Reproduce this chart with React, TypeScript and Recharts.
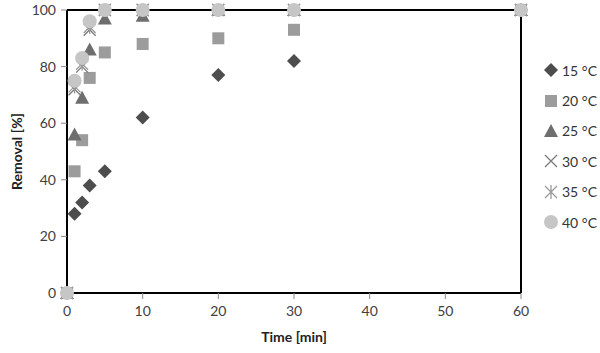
import React from "react";
import {
  ScatterChart, Scatter, XAxis, YAxis, ReferenceLine, Label,
} from "recharts";

const times = [0, 1, 2, 3, 5, 10, 20, 30, 60];
const r15 = [0, 28, 32, 38, 43, 62, 77, 82, 100];
const r20 = [0, 43, 54, 76, 85, 88, 90, 93, 100];
const r25 = [0, 56, 69, 86, 97, 98, 100, 100, 100];
const r30 = [0, 72, 80, 93, 100, 100, 100, 100, 100];
const r35 = [0, 73, 81, 94, 100, 100, 100, 100, 100];
const r40 = [0, 75, 83, 96, 100, 100, 100, 100, 100];
const xTicks = [0, 10, 20, 30, 40, 50, 60];
const yTicks = [0, 20, 40, 60, 80, 100];

type Kind = "diamond" | "square" | "triangle" | "cross" | "star" | "circle";

const series: { name: string; values: number[]; color: string; kind: Kind }[] = [
  { name: "15 °C", values: r15, color: "#4d4d4d", kind: "diamond" },
  { name: "20 °C", values: r20, color: "#9c9c9c", kind: "square" },
  { name: "25 °C", values: r25, color: "#6e6e6e", kind: "triangle" },
  { name: "30 °C", values: r30, color: "#7a7a7a", kind: "cross" },
  { name: "35 °C", values: r35, color: "#9a9a9a", kind: "star" },
  { name: "40 °C", values: r40, color: "#c6c6c6", kind: "circle" },
];

const FONT = "Lato, 'Open Sans', sans-serif";

function Marker({ kind, color, cx, cy }: { kind: Kind; color: string; cx: number; cy: number }) {
  switch (kind) {
    case "diamond":
      return <path d={`M${cx},${cy - 7}L${cx + 7},${cy}L${cx},${cy + 7}L${cx - 7},${cy}Z`} fill={color} />;
    case "square":
      return <rect x={cx - 6} y={cy - 6} width={12} height={12} fill={color} />;
    case "triangle":
      return <path d={`M${cx},${cy - 7}L${cx + 7},${cy + 6}L${cx - 7},${cy + 6}Z`} fill={color} />;
    case "cross":
      return (
        <path d={`M${cx - 6},${cy - 6}L${cx + 6},${cy + 6}M${cx + 6},${cy - 6}L${cx - 6},${cy + 6}`}
          stroke={color} strokeWidth={1.3} fill="none" />
      );
    case "star":
      return (
        <path d={`M${cx - 6},${cy - 6}L${cx + 6},${cy + 6}M${cx + 6},${cy - 6}L${cx - 6},${cy + 6}M${cx},${cy - 7}L${cx},${cy + 7}`}
          stroke={color} strokeWidth={1.3} fill="none" />
      );
    default:
      return <circle cx={cx} cy={cy} r={7} fill={color} />;
  }
}

export default function App() {
  return (
    <div style={{ position: "absolute", left: 0, top: 0, width: 600, height: 353, background: "#fff", fontFamily: FONT }}>
      <ScatterChart width={600} height={353} margin={{ top: 10, right: 79, bottom: 30, left: 22 }}>
        <XAxis
          type="number" dataKey="x" domain={[0, 60]} ticks={xTicks} height={30} tickMargin={7}
          axisLine={{ stroke: "#000", strokeWidth: 2 }} tickLine={{ stroke: "#888" }}
          tick={{ fontSize: 14, fill: "#404040", fontFamily: FONT }}
        >
          <Label value="Time [min]" position="bottom" offset={9}
            style={{ fontSize: 14, fontWeight: 700, fill: "#222", fontFamily: FONT }} />
        </XAxis>
        <YAxis
          type="number" dataKey="y" domain={[0, 100]} ticks={yTicks} width={45} tickMargin={5}
          axisLine={{ stroke: "#000", strokeWidth: 2 }} tickLine={{ stroke: "#888" }}
          tick={{ fontSize: 14, fill: "#404040", fontFamily: FONT }}
        >
          <Label value="Removal [%]" angle={-90} position="insideLeft" offset={-5}
            style={{ fontSize: 14, fontWeight: 700, fill: "#222", fontFamily: FONT, textAnchor: "middle" }} />
        </YAxis>
        <ReferenceLine y={100} stroke="#000" strokeWidth={2} />
        <ReferenceLine x={60} stroke="#000" strokeWidth={2} />
        {series.map((s) => (
          <Scatter
            key={s.name}
            name={s.name}
            data={times.map((t, i) => ({ x: t, y: s.values[i] }))}
            isAnimationActive={false}
            shape={(p: any) => <Marker kind={s.kind} color={s.color} cx={p.cx} cy={p.cy} />}
          />
        ))}
      </ScatterChart>
      <div style={{ position: "absolute", left: 540, top: 55 }}>
        {series.map((s) => (
          <div key={s.name} style={{ display: "flex", alignItems: "center", height: 30.4 }}>
            <svg width={22} height={18}>
              <Marker kind={s.kind} color={s.color} cx={11} cy={9} />
            </svg>
            <span style={{ fontSize: 14, color: "#333", marginLeft: 0 }}>{s.name}</span>
          </div>
        ))}
      </div>
    </div>
  );
}
